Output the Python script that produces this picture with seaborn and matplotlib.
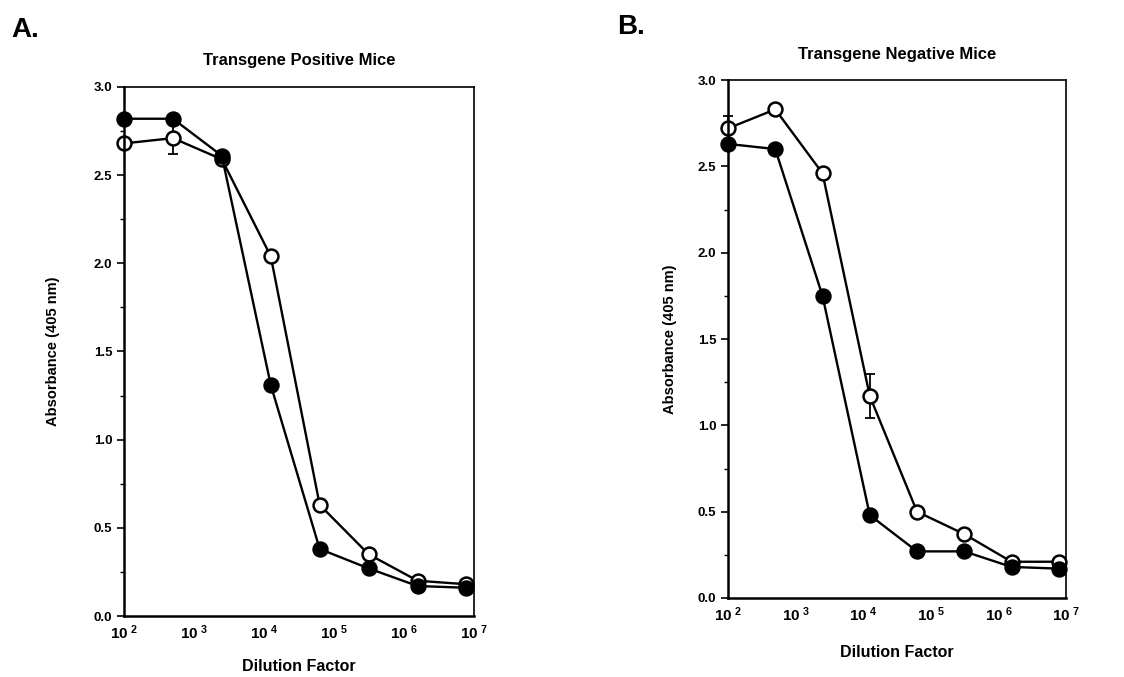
import matplotlib
matplotlib.use("Agg")
import numpy as np
import pandas as pd
import seaborn as sns
import matplotlib.pyplot as plt
from matplotlib.ticker import FixedLocator, LogLocator, NullFormatter, FuncFormatter, MultipleLocator

# dilution series (five-fold)
dilution = [100, 500, 2500, 12500, 62500, 312500, 1562500, 7812500]

# Panel A - transgene positive mice
pos_open = [2.68, 2.71, 2.59, 2.04, 0.63, 0.35, 0.20, 0.18]
pos_filled = [2.82, 2.82, 2.61, 1.31, 0.38, 0.27, 0.17, 0.16]
pos_open_err = [0, 0.09, 0, 0, 0, 0, 0, 0]

# Panel B - transgene negative mice
neg_open = [2.72, 2.83, 2.46, 1.17, 0.50, 0.37, 0.21, 0.21]
neg_filled = [2.63, 2.60, 1.75, 0.48, 0.27, 0.27, 0.18, 0.17]
neg_open_err = [0.07, 0, 0, 0.13, 0, 0, 0, 0]

sns.set_style("white")
plt.rcParams['font.family'] = ['Liberation Sans', 'DejaVu Sans']
plt.rcParams['font.weight'] = 'bold'
plt.rcParams['mathtext.fontset'] = 'custom'
plt.rcParams['mathtext.rm'] = 'Liberation Sans:bold'
plt.rcParams['mathtext.bf'] = 'Liberation Sans:bold'
plt.rcParams['mathtext.it'] = 'Liberation Sans:bold'
for key in ['text.color', 'axes.labelcolor', 'xtick.color', 'ytick.color', 'axes.edgecolor']:
    plt.rcParams[key] = 'black'

fig = plt.figure(figsize=(11.24, 6.77), dpi=100)
axA = fig.add_axes([0.1103, 0.0901, 0.3114, 0.7814])
axB = fig.add_axes([0.6477, 0.1167, 0.3007, 0.7651])


def draw_panel(ax, open_vals, filled_vals, open_err, title, ylpad, xlpad, tpad):
    df_o = pd.DataFrame({"dil": dilution, "abs": open_vals})
    df_f = pd.DataFrame({"dil": dilution, "abs": filled_vals})
    err = np.array(open_err)
    mask = err > 0
    ax.errorbar(np.array(dilution)[mask], np.array(open_vals)[mask], yerr=err[mask],
                fmt='none', ecolor='black', elinewidth=1.3, capsize=3.5, capthick=1.3,
                zorder=1, clip_on=False)
    sns.lineplot(data=df_o, x="dil", y="abs", ax=ax, color="black", linewidth=1.7,
                 marker="o", markersize=10, markerfacecolor="white",
                 markeredgecolor="black", markeredgewidth=1.8, zorder=2, clip_on=False)
    sns.lineplot(data=df_f, x="dil", y="abs", ax=ax, color="black", linewidth=1.7,
                 marker="o", markersize=10, markerfacecolor="black",
                 markeredgecolor="black", markeredgewidth=1.8, zorder=3, clip_on=False)
    ax.set_xscale("log")
    ax.set_xlim(100, 1e7)
    ax.set_ylim(0, 3.0)
    ax.xaxis.set_major_locator(FixedLocator([1e2, 1e3, 1e4, 1e5, 1e6, 1e7]))
    ax.xaxis.set_major_formatter(FuncFormatter(lambda v, p: r"$10^{\ %d}$" % round(np.log10(v))))
    ax.xaxis.set_minor_locator(LogLocator(base=10, subs=np.arange(2, 10)))
    ax.xaxis.set_minor_formatter(NullFormatter())
    ax.yaxis.set_major_locator(MultipleLocator(0.5))
    ax.yaxis.set_minor_locator(MultipleLocator(0.25))
    ax.yaxis.set_major_formatter(FuncFormatter(lambda v, p: "%.1f" % v))
    ax.tick_params(axis="x", which="major", direction="inout", length=5, width=1.2,
                   labelsize=11, pad=3)
    ax.tick_params(axis="x", which="minor", direction="inout", length=3, width=1)
    ax.tick_params(axis="y", which="major", direction="out", length=5, width=1.2,
                   labelsize=9.5, left=True)
    ax.tick_params(axis="y", which="minor", direction="out", length=3, width=1, left=True)
    for s in ["left", "bottom"]:
        ax.spines[s].set_linewidth(1.8)
    for s in ["top", "right"]:
        ax.spines[s].set_linewidth(1.2)
    for sp in ax.spines.values():
        sp.set_color("black")
    ax.set_xlabel("Dilution Factor", fontsize=11.5, fontweight="bold", labelpad=xlpad)
    ax.set_ylabel("Absorbance (405 nm)", fontsize=10.5, fontweight="bold", labelpad=ylpad)
    ax.set_title(title, fontsize=12, fontweight="bold", pad=tpad)


draw_panel(axA, pos_open, pos_filled, pos_open_err, "Transgene Positive Mice", 24, 12, 16)
draw_panel(axB, neg_open, neg_filled, neg_open_err, "Transgene Negative Mice", 15, 15, 15)

fig.text(0.010, 0.945, "A.", fontsize=20, fontweight="bold", color="black")
fig.text(0.549, 0.950, "B.", fontsize=20, fontweight="bold", color="black")

fig.savefig("out.png", dpi=100)
